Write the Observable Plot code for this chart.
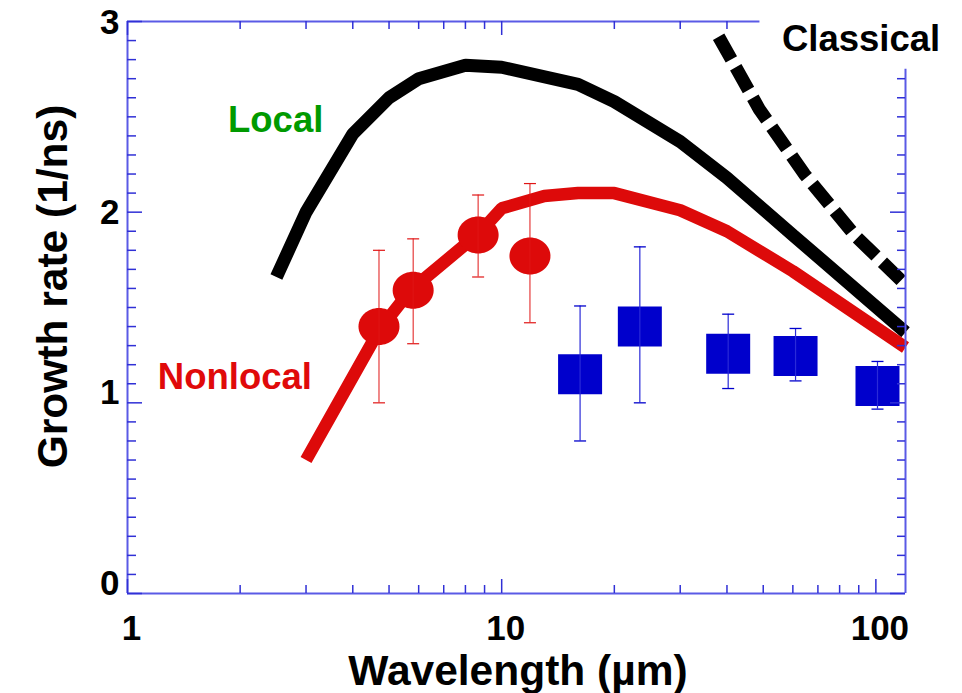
<!DOCTYPE html>
<html><head><meta charset="utf-8">
<script src="https://cdn.jsdelivr.net/npm/d3@7"></script>
<script src="https://cdn.jsdelivr.net/npm/@observablehq/plot@0.6"></script>
<style>body{margin:0;background:#fff;} svg{display:block}</style>
</head><body><div id="chart"></div>
<script>
// ---- data ----
const localWl   = [2.5, 3, 4, 5, 6, 8, 10, 16, 20, 30, 40, 60, 120];
const localRate = [1.66, 2.0, 2.41, 2.6, 2.7, 2.77, 2.76, 2.67, 2.58, 2.37, 2.18, 1.88, 1.37];

const nonlocalWl   = [3, 4.7, 5.7, 8.7, 10, 13, 16, 20, 30, 40, 60, 120];
const nonlocalRate = [0.70, 1.38, 1.59, 1.89, 2.02, 2.085, 2.10, 2.10, 2.01, 1.90, 1.69, 1.29];

const classicalWl   = [38, 48.8, 64.4, 87.7, 120];
const classicalRate = [2.92, 2.54, 2.20, 1.88, 1.62];

const redWl   = [4.7, 5.8, 8.65, 11.9];
const redRate = [1.40, 1.59, 1.88, 1.77];
const redLo   = [1.00, 1.31, 1.66, 1.42];
const redHi   = [1.80, 1.86, 2.09, 2.15];

const blueWl   = [16.2, 23.4, 40.3, 61, 101];
const blueRate = [1.15, 1.40, 1.257, 1.245, 1.088];
const blueLo   = [0.80, 1.00, 1.075, 1.115, 0.967];
const blueHi   = [1.508, 1.818, 1.465, 1.39, 1.217];

const xTickLabels = [1, 10, 100];
const yTickLabels = [0, 1, 2, 3];
const xDomain = [1, 120];
const yDomain = [0, 3];

const labels = [
  {text: "Local",     x: 1.856, y: 2.418, color: "#009a00"},
  {text: "Nonlocal",  x: 1.205, y: 1.075, color: "#e00a0a"},
  {text: "Classical", x: 56.1,  y: 2.843, color: "#000000"}
];

// ---- layout ----
const W = 962, H = 693, mL = 127, mR = 57, mT = 21, mB = 100;
const innerW = W - mL - mR, innerH = H - mT - mB;
const frameBlue = "#5a5ae6", tickBlue = "#3030d6";
const cutX = 49, cutY = 2.75; // frame is hidden behind the "Classical" label

const toRows = (xs, ys, extra = {}) => xs.map((x, i) => {
  const r = {x, y: ys[i]};
  for (const k in extra) r[k] = extra[k][i];
  return r;
});
const localData = toRows(localWl, localRate);
const nonlocalData = toRows(nonlocalWl, nonlocalRate);
const classicalData = toRows(classicalWl, classicalRate);
const redData = toRows(redWl, redRate, {lo: redLo, hi: redHi});
const blueData = toRows(blueWl, blueRate, {lo: blueLo, hi: blueHi});

// ticks
const xMinorBottom = [2,3,4,5,6,7,8,9,20,30,40,50,60,70,80,90];
const xMinorTop = [2,3,4,5,6,7,8,9,20,30,40];
const yMinorAll = d3.range(1, 30).map(i => i / 10).filter(v => Math.abs(v - Math.round(v)) > 1e-9);
const yMinorRight = yMinorAll.filter(v => v < cutY);

// custom symbols
const ellipse = {draw(ctx) {
  const rx = 20.5, ry = 18.5, k = 0.5523;
  ctx.moveTo(rx, 0);
  ctx.bezierCurveTo(rx, ry * k, rx * k, ry, 0, ry);
  ctx.bezierCurveTo(-rx * k, ry, -rx, ry * k, -rx, 0);
  ctx.bezierCurveTo(-rx, -ry * k, -rx * k, -ry, 0, -ry);
  ctx.bezierCurveTo(rx * k, -ry, rx, -ry * k, rx, 0);
  ctx.closePath();
}};
const box = {draw(ctx) { ctx.rect(-22, -20, 44, 40); }};
const cap = {draw(ctx) { ctx.moveTo(-6, 0); ctx.lineTo(6, 0); }};

const axisFont = {fontSize: 35, fontWeight: "bold", fill: "black", label: null, tickSize: 0, tickFormat: d => String(d)};

const chart = Plot.plot({
  width: W, height: H,
  marginLeft: mL, marginRight: mR, marginTop: mT, marginBottom: mB,
  style: {fontFamily: "'Liberation Sans', Arial, sans-serif", background: "white", overflow: "visible"},
  x: {type: "log", domain: xDomain},
  y: {domain: yDomain},
  marks: [
    // curves
    Plot.line(classicalData, {x: "x", y: "y", stroke: "black", strokeWidth: 13, strokeDasharray: "26,9", strokeLinecap: "butt", strokeLinejoin: "miter"}),
    Plot.line(localData, {x: "x", y: "y", stroke: "black", strokeWidth: 13, strokeLinecap: "butt", strokeLinejoin: "miter"}),
    Plot.line(nonlocalData, {x: "x", y: "y", stroke: "#dd0a0a", strokeWidth: 12.5, strokeLinecap: "butt", strokeLinejoin: "miter"}),
    // red measured points
    Plot.dot(redData, {x: "x", y: "y", symbol: ellipse, fill: "#dd0a0a", stroke: "none"}),
    Plot.ruleX(redData, {x: "x", y1: "lo", y2: "hi", stroke: "#e01515", strokeWidth: 1}),
    Plot.dot(redData, {x: "x", y: "lo", symbol: cap, fill: "none", stroke: "#e01515", strokeWidth: 1.2}),
    Plot.dot(redData, {x: "x", y: "hi", symbol: cap, fill: "none", stroke: "#e01515", strokeWidth: 1.2}),
    // blue measured points
    Plot.dot(blueData, {x: "x", y: "y", symbol: box, fill: "#0000cc", stroke: "none"}),
    Plot.ruleX(blueData, {x: "x", y1: "lo", y2: "hi", stroke: "#2a2ad8", strokeWidth: 1.2}),
    Plot.dot(blueData, {x: "x", y: "lo", symbol: cap, fill: "none", stroke: "#0000cc", strokeWidth: 1.3}),
    Plot.dot(blueData, {x: "x", y: "hi", symbol: cap, fill: "none", stroke: "#0000cc", strokeWidth: 1.3}),
    // frame
    Plot.ruleY([yDomain[0]], {x1: xDomain[0], x2: xDomain[1], stroke: frameBlue, strokeWidth: 2}),
    Plot.ruleX([xDomain[0]], {y1: yDomain[0], y2: yDomain[1], stroke: frameBlue, strokeWidth: 2}),
    Plot.ruleY([yDomain[1]], {x1: xDomain[0], x2: cutX, stroke: frameBlue, strokeWidth: 2}),
    Plot.ruleX([xDomain[1]], {y1: yDomain[0], y2: cutY, stroke: frameBlue, strokeWidth: 2}),
    // bottom ticks (inward)
    Plot.tickX(xTickLabels, {x: d => d, insetTop: innerH - 14, stroke: tickBlue, strokeWidth: 1.5}),
    Plot.tickX(xMinorBottom, {x: d => d, insetTop: innerH - 8, stroke: tickBlue, strokeWidth: 1.5}),
    // top ticks
    Plot.tickX([1, 10], {x: d => d, insetBottom: innerH - 14, stroke: tickBlue, strokeWidth: 1.5}),
    Plot.tickX(xMinorTop, {x: d => d, insetBottom: innerH - 8, stroke: tickBlue, strokeWidth: 1.5}),
    // left ticks
    Plot.tickY(yTickLabels, {y: d => d, insetRight: innerW - 15, stroke: tickBlue, strokeWidth: 1.5}),
    Plot.tickY(yMinorAll, {y: d => d, insetRight: innerW - 9, stroke: tickBlue, strokeWidth: 1.5}),
    // right ticks
    Plot.tickY([0, 1, 2], {y: d => d, insetLeft: innerW - 15, stroke: tickBlue, strokeWidth: 1.5}),
    Plot.tickY(yMinorRight, {y: d => d, insetLeft: innerW - 8, stroke: tickBlue, strokeWidth: 1.5}),
    // tick labels
    Plot.axisX(xTickLabels, {...axisFont, tickPadding: 22, dx: 4}),
    Plot.axisY(yTickLabels.filter(v => v >= 2), {...axisFont, tickPadding: 8, dy: 1}),
    Plot.axisY(yTickLabels.filter(v => v < 2), {...axisFont, tickPadding: 8, dy: -10}),
    // axis titles
    Plot.text(["Wavelength (µm)"], {text: d => d, frameAnchor: "bottom", textAnchor: "middle", lineAnchor: "bottom", dy: 91, dx: 1.5, fontSize: 42.5, fontWeight: "bold", fill: "black"}),
    Plot.text(["Growth rate (1/ns)"], {text: d => d, frameAnchor: "left", textAnchor: "middle", rotate: -90, lineAnchor: "bottom", dx: -61, dy: -21, fontSize: 42.5, fontWeight: "bold", fill: "black"}),
    // curve labels
    Plot.text(labels, {x: "x", y: "y", text: "text", fill: d => d.color, textAnchor: "start", lineAnchor: "bottom", fontSize: 36.5, fontWeight: "bold"})
  ]
});
document.getElementById("chart").appendChild(chart);
</script>
</body></html>
